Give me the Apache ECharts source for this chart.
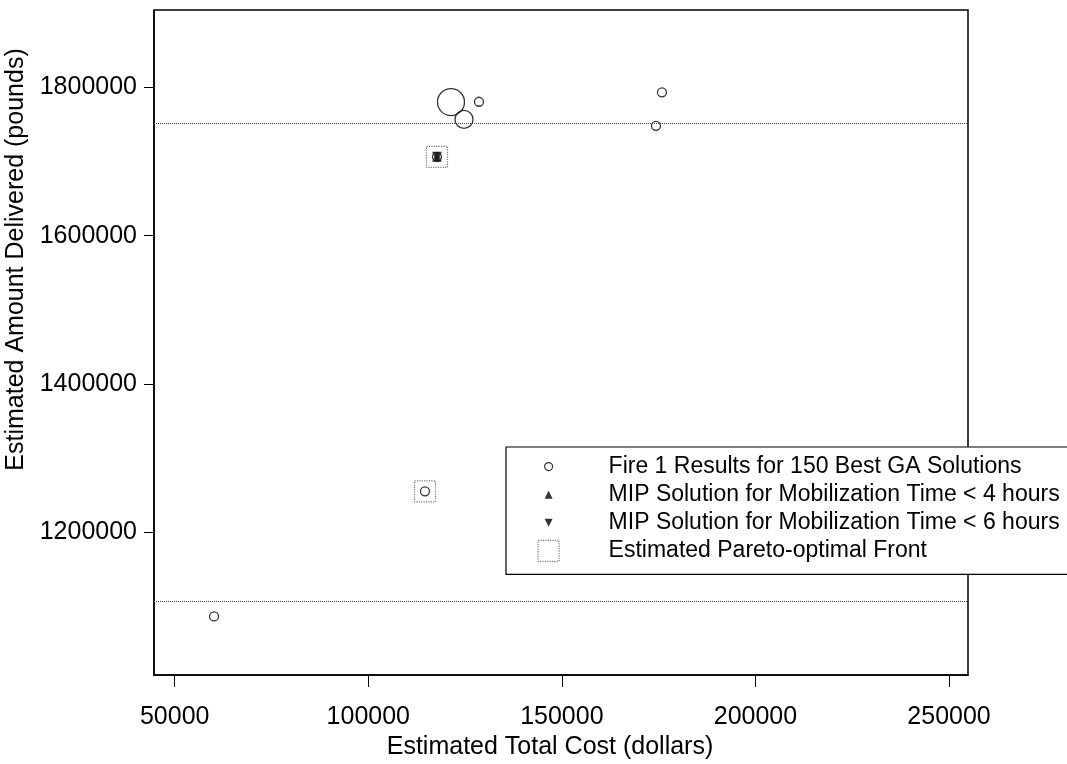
<!DOCTYPE html>
<html><head><meta charset="utf-8">
<script src="https://cdn.jsdelivr.net/npm/echarts@6/dist/echarts.min.js"></script>
<style>html,body{margin:0;padding:0;background:#fff}#c{width:1067px;height:764px}</style>
</head><body><div id="c"></div>
<script>
// ---- data ----
const gaCost      = [121358, 124716, 128590, 175852, 174303, 117742, 114643, 60150];
const gaDelivered = [1780405, 1757030, 1780810, 1793510, 1748380, 1706490, 1254730, 1085810];
const gaWeight    = [3, 2, 1, 1, 1, 1, 1, 1];
const mip4Cost = [117742], mip4Delivered = [1706490];
const mip6Cost = [117742], mip6Delivered = [1706490];
const paretoCost = [117742, 114643], paretoDelivered = [1706490, 1254730];
const refLines = [1751620, 1106760];
const xTicks = [50000, 100000, 150000, 200000, 250000];
const yTicks = [1200000, 1400000, 1600000, 1800000];
const names = ['Fire 1 Results for 150 Best GA Solutions',
  'MIP Solution for Mobilization Time < 4 hours',
  'MIP Solution for Mobilization Time < 6 hours',
  'Estimated Pareto-optimal Front'];

const FONT = '"Liberation Sans", Arial, Helvetica, sans-serif';
const zip = (a, b, c) => a.map((v, i) => c ? [v, b[i], c[i]] : [v, b[i]]);
const chart = echarts.init(document.getElementById('c'), null, {renderer: 'canvas'});
const axisCommon = {
  type: 'value', nameLocation: 'middle',
  axisLine: {show: true, lineStyle: {color: '#000', width: 1.5}},
  splitLine: {show: false},
};
const plain = v => String(v);
chart.setOption({
  animation: false,
  backgroundColor: '#fff',
  grid: {left: 154, top: 10, width: 814, height: 665, show: true, borderColor: '#000', borderWidth: 1.5,
         backgroundColor: 'transparent', outerBoundsMode: 'none'},
  xAxis: Object.assign({}, axisCommon, {
    min: 44650, max: 254900, name: 'Estimated Total Cost (dollars)', nameGap: 59,
    nameTextStyle: {fontSize: 25, color: '#000', fontFamily: FONT, padding: [0, 22, 0, 0]},
    axisTick: {show: true, length: 12, customValues: xTicks, lineStyle: {color: '#000', width: 1}},
    axisLabel: {customValues: xTicks, formatter: plain, margin: 30, fontSize: 25, color: '#000', fontFamily: FONT}
  }),
  yAxis: Object.assign({}, axisCommon, {
    min: 1006760, max: 1904730, name: 'Estimated Amount Delivered (pounds)', nameGap: 121,
    nameTextStyle: {fontSize: 25, color: '#000', fontFamily: FONT, padding: [0, 0, 0, 166]},
    axisTick: {show: true, length: 10, customValues: yTicks, lineStyle: {color: '#000', width: 1}},
    axisLabel: {customValues: yTicks, formatter: plain, margin: 17, fontSize: 25, color: '#000', fontFamily: FONT}
  }),
  legend: {
    orient: 'vertical', left: 506, top: 447, padding: [8, 10, 12, 31], itemGap: 5,
    itemWidth: 66, itemHeight: 22, backgroundColor: '#fff', borderColor: '#000', borderWidth: 1.2,
    borderRadius: 0, selectedMode: false,
    textStyle: {fontSize: 23, color: '#000', fontFamily: FONT},
    data: [
      {name: names[0], icon: 'path://M0,0M66,22M15,11A4,4,0,1,1,7,11A4,4,0,1,1,15,11Z',
       itemStyle: {color: 'rgba(0,0,0,0)', borderColor: '#000', borderWidth: 1.2}},
      {name: names[1], icon: 'path://M0,0M66,22M11,7L15,15L7,15Z',
       itemStyle: {color: '#000', borderWidth: 0}},
      {name: names[2], icon: 'path://M0,0M66,22M7,7L15,7L11,15Z',
       itemStyle: {color: '#000', borderWidth: 0}},
      {name: names[3], icon: 'path://M0,0M66,22M0.5,0.5L21.5,0.5L21.5,21.5L0.5,21.5Z',
       itemStyle: {color: 'rgba(0,0,0,0)', borderColor: '#555', borderWidth: 1.2, borderType: 'dotted'}}
    ]
  },
  series: [
    {
      name: names[3], type: 'scatter', symbol: 'rect', symbolSize: 21, z: 1,
      data: zip(paretoCost, paretoDelivered),
      itemStyle: {color: 'rgba(0,0,0,0)', borderColor: '#555', borderWidth: 1.2, borderType: 'dotted'}
    },
    {
      name: names[0], type: 'scatter', symbol: 'circle', z: 2,
      symbolSize: v => 9 * v[2],
      data: zip(gaCost, gaDelivered, gaWeight),
      itemStyle: {color: 'rgba(0,0,0,0)', borderColor: '#000', borderWidth: 1.3},
      markLine: {
        silent: true, symbol: 'none', label: {show: false},
        lineStyle: {type: 'dotted', color: '#444', width: 1},
        emphasis: {disabled: true},
        data: refLines.map(v => ({yAxis: v}))
      }
    },
    {
      name: names[1], type: 'scatter', symbol: 'triangle', symbolSize: 10, z: 3,
      data: zip(mip4Cost, mip4Delivered), itemStyle: {color: '#111'}
    },
    {
      name: names[2], type: 'scatter', symbol: 'path://M0,0L10,0L5,10Z', symbolSize: 10, z: 3,
      data: zip(mip6Cost, mip6Delivered), itemStyle: {color: '#111'}
    }
  ]
});
</script></body></html>
